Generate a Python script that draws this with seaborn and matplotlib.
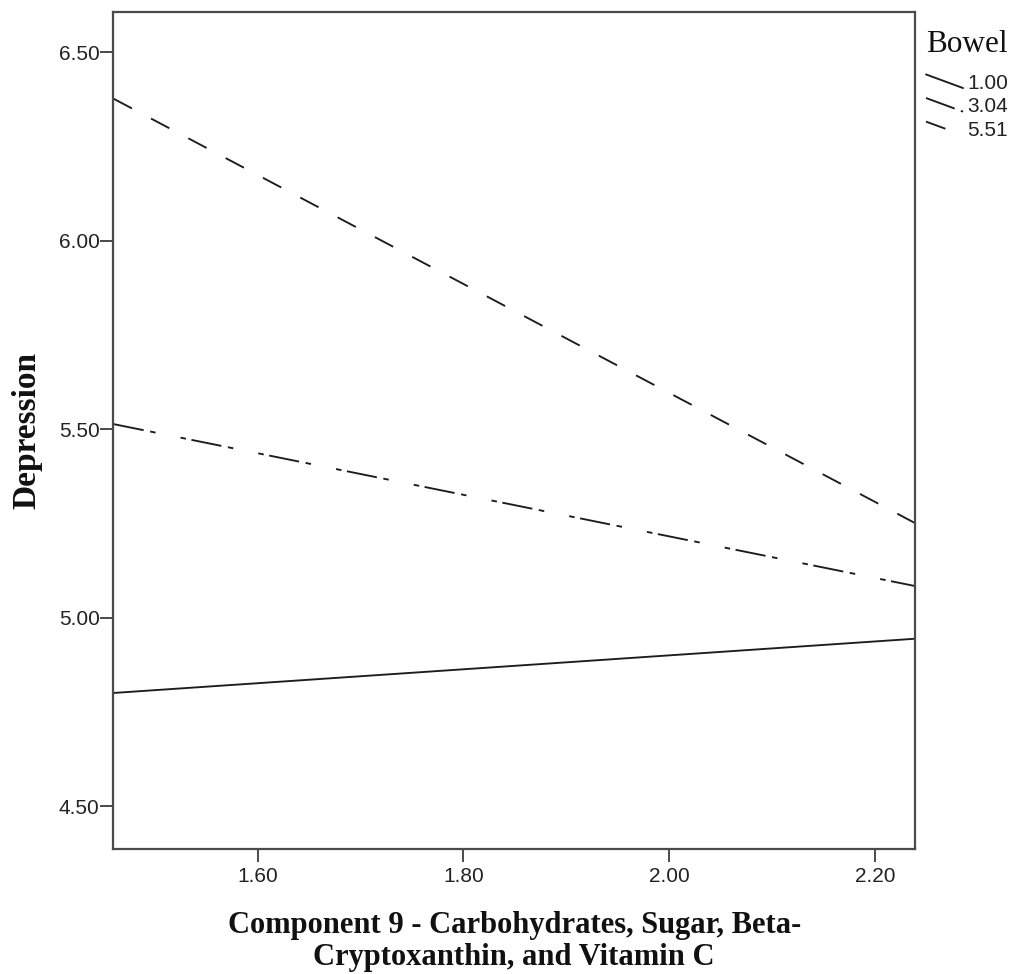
import matplotlib
matplotlib.use("Agg")
import matplotlib.pyplot as plt
from matplotlib.lines import Line2D
from matplotlib.legend_handler import HandlerLine2D
import pandas as pd
import seaborn as sns

# Predicted depression at the lowest and highest observed Component 9 score,
# for three levels of the Bowel moderator
bowel_levels = ["1.00", "3.04", "5.51"]
component9_range = [1.46, 2.24]
depression_at_min = [4.80, 5.513, 6.376]
depression_at_max = [4.944, 5.083, 5.249]

x_ticks = [1.60, 1.80, 2.00, 2.20]
y_ticks = [4.50, 5.00, 5.50, 6.00, 6.50]

rows = []
for level, y0, y1 in zip(bowel_levels, depression_at_min, depression_at_max):
    rows.append({"Component 9": component9_range[0], "Depression": y0, "Bowel": level})
    rows.append({"Component 9": component9_range[1], "Depression": y1, "Bowel": level})
df = pd.DataFrame(rows)

sns.set_style("white")
plt.rcParams["font.family"] = ["Liberation Sans", "DejaVu Sans"]
plt.rcParams["lines.scale_dashes"] = False

LINE_COLOR = "#1c1c1c"
FRAME_COLOR = "#4a4a4a"

fig = plt.figure(figsize=(10.16, 9.74), dpi=100, facecolor="white")
ax = fig.add_axes([0.1117, 0.1283, 0.7889, 0.8597])

# solid / dash-dot-dot style / plain dashes (lengths in points)
dash_styles = {
    "1.00": "",
    "3.04": (22, 4.75, 4, 18.35, 4, 4),
    "5.51": (14.9, 15.5),
}
sns.lineplot(
    data=df, x="Component 9", y="Depression", hue="Bowel", style="Bowel",
    hue_order=bowel_levels, style_order=bowel_levels,
    palette={lv: LINE_COLOR for lv in bowel_levels},
    dashes=dash_styles, linewidth=1.35, legend=False, ax=ax,
)

ax.set_xlim(1.4598, 2.2389)
ax.set_ylim(4.386, 6.607)
ax.set_xticks(x_ticks)
ax.set_yticks(y_ticks)
ax.set_xticklabels([f"{v:.2f}" for v in x_ticks])
ax.set_yticklabels([f"{v:.2f}" for v in y_ticks])
ax.tick_params(axis="both", direction="out", length=9.5, width=1.4,
               color=FRAME_COLOR, labelsize=15, labelcolor="#222222",
               bottom=True, left=True, top=False, right=False)
ax.tick_params(axis="x", pad=3.5)
ax.tick_params(axis="y", pad=0.5)
for side in ["left", "right", "top", "bottom"]:
    ax.spines[side].set_visible(True)
    ax.spines[side].set_color(FRAME_COLOR)
    ax.spines[side].set_linewidth(1.6)

ax.set_xlabel("Component 9 - Carbohydrates, Sugar, Beta-\nCryptoxanthin, and Vitamin C",
              fontfamily="Liberation Serif", fontweight="bold", fontsize=22,
              linespacing=1.12, labelpad=18, color="#111111")
ax.set_ylabel("Depression", fontfamily="Liberation Serif", fontweight="bold",
              fontsize=24, labelpad=12, color="#111111")


class SlantedLineHandler(HandlerLine2D):
    """Legend key drawn as a short line sloping down to the right."""

    def create_artists(self, legend, orig_handle, xdescent, ydescent,
                       width, height, fontsize, trans):
        line = Line2D([-xdescent, -xdescent + width],
                      [height - ydescent, -ydescent])
        self.update_prop(line, orig_handle, legend)
        line.set_transform(trans)
        return [line]


handles = ax.get_lines()[:len(bowel_levels)]
leg = fig.legend(
    handles, bowel_levels, title="Bowel", loc="upper left",
    bbox_to_anchor=(926 / 1016, 1 - 30 / 974), bbox_transform=fig.transFigure,
    frameon=False, fontsize=15, handlelength=1.78, handleheight=0.63,
    handletextpad=0.2, labelspacing=0.22, borderpad=0, borderaxespad=0,
    alignment="left", handler_map={Line2D: SlantedLineHandler()},
)
leg.get_title().set_fontfamily("Liberation Serif")
leg.get_title().set_fontsize(22.5)
leg.get_title().set_color("#111111")
for t in leg.get_texts():
    t.set_color("#222222")
# extra room between the legend title and its entries (points)
leg._legend_box.sep = 10.5

fig.savefig("out.png", dpi=100, facecolor="white")
